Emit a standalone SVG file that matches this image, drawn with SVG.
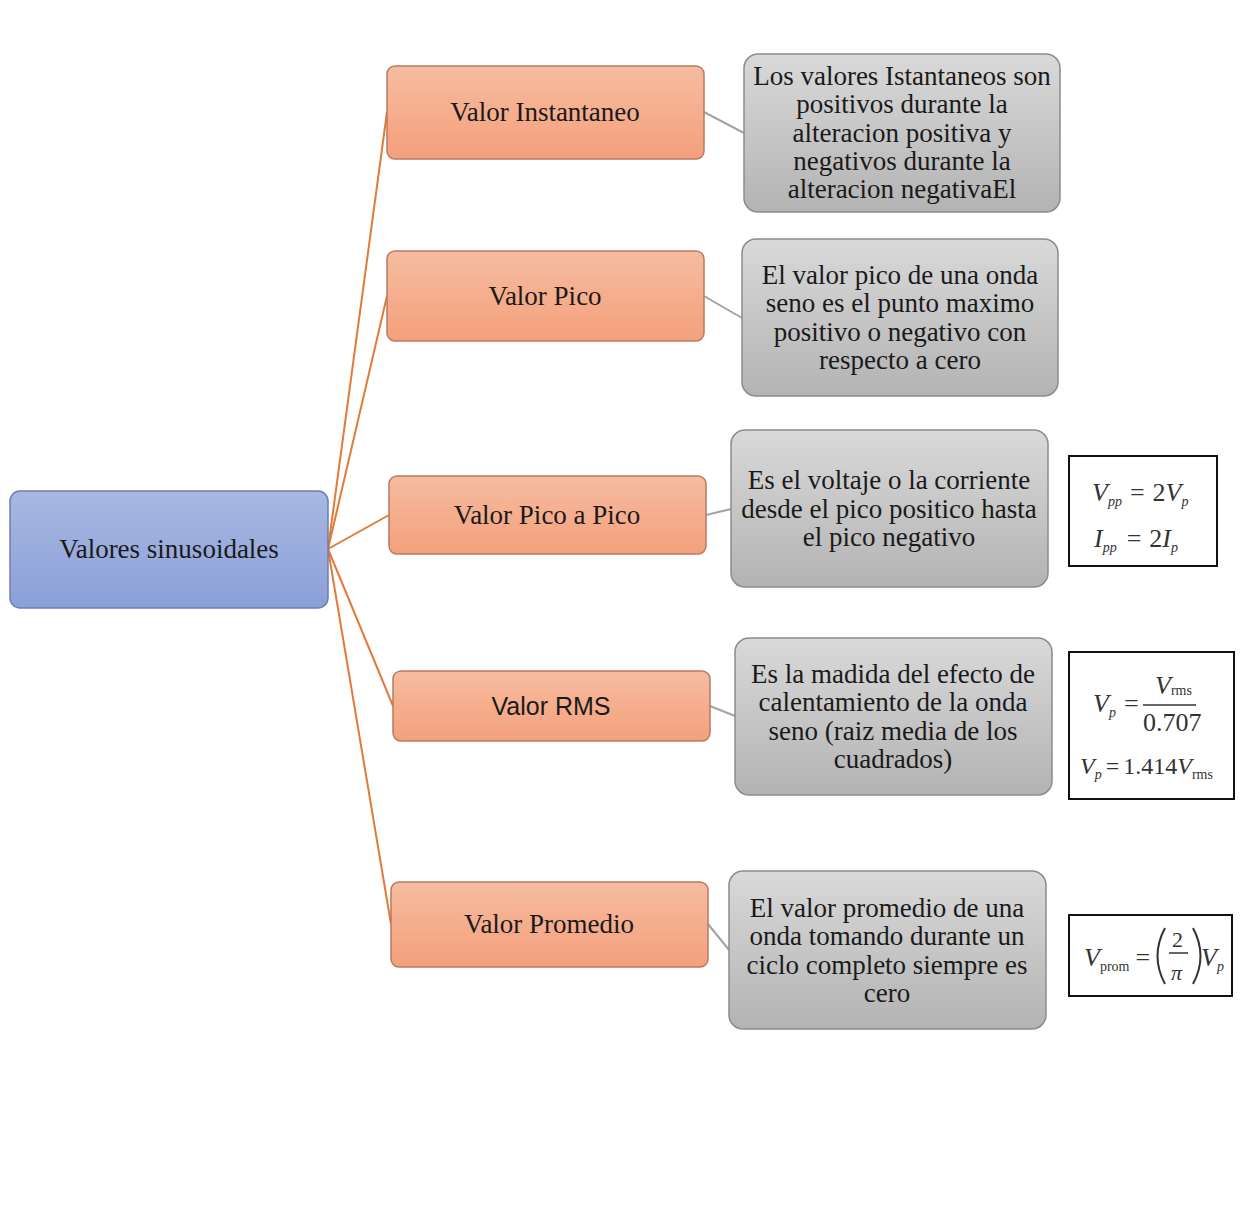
<svg xmlns="http://www.w3.org/2000/svg" width="1247" height="1207" viewBox="0 0 1247 1207">
<defs>
<linearGradient id="gBlue" x1="0" y1="0" x2="0" y2="1"><stop offset="0" stop-color="#a9b8e2"/><stop offset="1" stop-color="#8aa0d8"/></linearGradient>
<linearGradient id="gOr" x1="0" y1="0" x2="0" y2="1"><stop offset="0" stop-color="#f6bca0"/><stop offset="1" stop-color="#f4a07c"/></linearGradient>
<linearGradient id="gGr" x1="0" y1="0" x2="0" y2="1"><stop offset="0" stop-color="#d9d9d9"/><stop offset="1" stop-color="#b3b3b3"/></linearGradient>
</defs>
<style>
.root{fill:url(#gBlue);stroke:#6d7fae;stroke-width:1.5}
.or{fill:url(#gOr);stroke:#b87a60;stroke-width:1.5}
.gr{fill:url(#gGr);stroke:#8c8c8c;stroke-width:1.5}
.fb{fill:#fff;stroke:#111;stroke-width:2}
.t{font-family:"Liberation Serif",serif;font-size:27px;fill:#1a1a1a;text-anchor:middle}
.ts{font-family:"Liberation Sans",sans-serif;font-size:25px;fill:#1a1a1a;text-anchor:middle}
.m{font-family:"Liberation Serif",serif;font-size:26px;fill:#333}
.mi{font-style:italic}
.sub{font-size:14px}
.oc{stroke:#e07b39;stroke-width:2;fill:none}
.gc{stroke:#a3a3a3;stroke-width:2;fill:none}
</style>
<rect width="1247" height="1207" fill="#fff"/>
<g id="connectors">
<line class="oc" x1="328" y1="549" x2="387" y2="112"/>
<line class="oc" x1="328" y1="549" x2="387" y2="296"/>
<line class="oc" x1="328" y1="549" x2="389" y2="515"/>
<line class="oc" x1="328" y1="549" x2="393" y2="706"/>
<line class="oc" x1="328" y1="549" x2="391" y2="924"/>
<line class="gc" x1="704" y1="112" x2="744" y2="133"/>
<line class="gc" x1="704" y1="296" x2="742" y2="318"/>
<line class="gc" x1="706" y1="515" x2="731" y2="509"/>
<line class="gc" x1="710" y1="706" x2="735" y2="716"/>
<line class="gc" x1="708" y1="924" x2="729" y2="950"/>
</g>
<g id="root">
<rect class="root" x="10" y="491" width="318" height="117" rx="10"/>
<text class="t" x="169" y="558" fill="#0d1530">Valores sinusoidales</text>
</g>
<g id="n1">
<rect class="or" x="387" y="66" width="317" height="93" rx="8"/>
<text class="t" x="545" y="121">Valor Instantaneo</text>
</g>
<g id="n2">
<rect class="or" x="387" y="251" width="317" height="90" rx="8"/>
<text class="t" x="545" y="305">Valor Pico</text>
</g>
<g id="n3">
<rect class="or" x="389" y="476" width="317" height="78" rx="8"/>
<text class="t" x="547" y="524">Valor Pico a Pico</text>
</g>
<g id="n4">
<rect class="or" x="393" y="671" width="317" height="70" rx="8"/>
<text class="ts" x="551" y="715">Valor RMS</text>
</g>
<g id="n5">
<rect class="or" x="391" y="882" width="317" height="85" rx="8"/>
<text class="t" x="549" y="933">Valor Promedio</text>
</g>
<g id="d1">
<rect class="gr" x="744" y="54" width="316" height="158" rx="14"/>
<text class="t" x="902" y="85">Los valores Istantaneos son</text>
<text class="t" x="902" y="113">positivos durante la</text>
<text class="t" x="902" y="142">alteracion positiva y</text>
<text class="t" x="902" y="170">negativos durante la</text>
<text class="t" x="902" y="198">alteracion negativaEl</text>
</g>
<g id="d2">
<rect class="gr" x="742" y="239" width="316" height="157" rx="14"/>
<text class="t" x="900" y="284">El valor pico de una onda</text>
<text class="t" x="900" y="312">seno es el punto maximo</text>
<text class="t" x="900" y="341">positivo o negativo con</text>
<text class="t" x="900" y="369">respecto a cero</text>
</g>
<g id="d3">
<rect class="gr" x="731" y="430" width="317" height="157" rx="14"/>
<text class="t" x="889" y="489">Es el voltaje o la corriente</text>
<text class="t" x="889" y="518">desde el pico positico hasta</text>
<text class="t" x="889" y="546">el pico negativo</text>
</g>
<g id="d4">
<rect class="gr" x="735" y="638" width="317" height="157" rx="14"/>
<text class="t" x="893" y="683">Es la madida del efecto de</text>
<text class="t" x="893" y="711">calentamiento de la onda</text>
<text class="t" x="893" y="740">seno (raiz media de los</text>
<text class="t" x="893" y="768">cuadrados)</text>
</g>
<g id="d5">
<rect class="gr" x="729" y="871" width="317" height="158" rx="14"/>
<text class="t" x="887" y="917">El valor promedio de una</text>
<text class="t" x="887" y="945">onda tomando durante un</text>
<text class="t" x="887" y="974">ciclo completo siempre es</text>
<text class="t" x="887" y="1002">cero</text>
</g>
<g id="f1">
<rect class="fb" x="1069" y="456" width="148" height="110"/>
<text class="m" x="1092" y="501"><tspan class="mi">V</tspan><tspan class="mi sub" dy="5">pp</tspan><tspan dy="-5" dx="8">=</tspan><tspan dx="8">2</tspan><tspan class="mi">V</tspan><tspan class="mi sub" dy="5">p</tspan></text>
<text class="m" x="1094" y="547"><tspan class="mi">I</tspan><tspan class="mi sub" dy="5">pp</tspan><tspan dy="-5" dx="10">=</tspan><tspan dx="8">2</tspan><tspan class="mi">I</tspan><tspan class="mi sub" dy="5">p</tspan></text>
</g>
<g id="f2">
<rect class="fb" x="1069" y="652" width="165" height="147"/>
<text class="m" x="1093" y="712"><tspan class="mi">V</tspan><tspan class="mi sub" dy="5">p</tspan><tspan dy="-5" dx="8">=</tspan></text>
<text class="m" x="1155" y="694"><tspan class="mi">V</tspan><tspan class="sub" dy="1">rms</tspan></text>
<line x1="1143" y1="705" x2="1196" y2="705" stroke="#333" stroke-width="1.5"/>
<text class="m" x="1143" y="731">0.707</text>
<text class="m" x="1080" y="774" style="font-size:24px"><tspan class="mi">V</tspan><tspan class="mi sub" dy="5">p</tspan><tspan dy="-5" dx="4">=</tspan><tspan dx="4">1.414</tspan><tspan class="mi">V</tspan><tspan class="sub" dy="5">rms</tspan></text>
</g>
<g id="f3">
<rect class="fb" x="1069" y="915" width="163" height="81"/>
<text class="m" x="1084" y="966"><tspan class="mi">V</tspan><tspan class="sub" dy="5">prom</tspan><tspan dy="-5" dx="6">=</tspan></text>
<path d="M1165 928 Q1150 956 1165 984" stroke="#333" stroke-width="2" fill="none"/>
<text class="m" x="1172" y="947" style="font-size:22px">2</text>
<line x1="1169" y1="953" x2="1188" y2="953" stroke="#333" stroke-width="1.5"/>
<text class="m mi" x="1171" y="980" style="font-size:22px">π</text>
<path d="M1193 928 Q1208 956 1193 984" stroke="#333" stroke-width="2" fill="none"/>
<text class="m" x="1201" y="966"><tspan class="mi">V</tspan><tspan class="mi sub" dy="5">p</tspan></text>
</g>
</svg>
